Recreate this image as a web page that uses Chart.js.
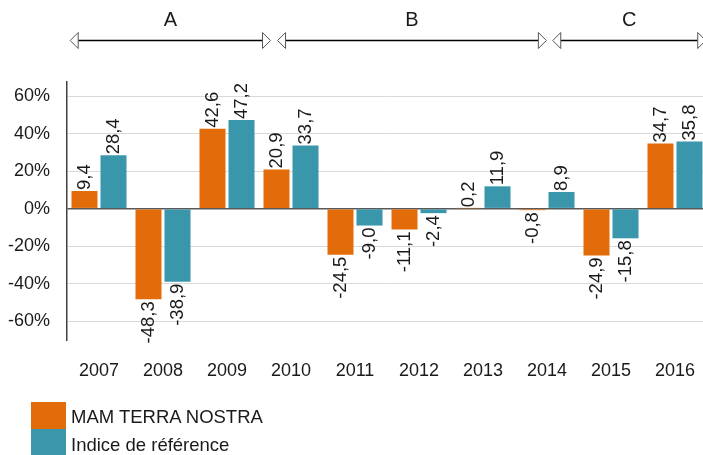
<!DOCTYPE html>
<html>
<head>
<meta charset="utf-8">
<script src="https://cdn.jsdelivr.net/npm/chart.js@4"></script>
<style>
  html, body { margin: 0; padding: 0; background: #fff; overflow: hidden; }
  #wrap { position: relative; width: 707px; height: 455px; }
  #legend { position: absolute; left: 31px; top: 402px; font: 18.5px "Liberation Sans", Arial, sans-serif; color: #1a1a1a; }
  #legend div { display: flex; align-items: center; height: 26.5px; }
  #legend span { display: inline-block; width: 35px; height: 26.5px; margin-right: 5px; }
  #legend b { font-weight: normal; position: relative; top: 2px; }
  #legend div + div b { top: 3px; }
</style>
</head>
<body>
<div id="wrap">
  <canvas id="myChart" width="707" height="455"></canvas>
  <div id="legend"></div>
</div>
<script>
const years = ["2007", "2008", "2009", "2010", "2011", "2012", "2013", "2014", "2015", "2016"];
const fund = [9.4, -48.3, 42.6, 20.9, -24.5, -11.1, 0.2, -0.8, -24.9, 34.7];
const index = [28.4, -38.9, 47.2, 33.7, -9.0, -2.4, 11.9, 8.9, -15.8, 35.8];
const yTicks = [-60, -40, -20, 0, 20, 40, 60];

// periods along the top, in year units (2007 = first category)
const periodNames = ["A", "B", "C"];
const periodStart = [2006.55, 2009.79, 2014.09];
const periodEnd = [2009.68, 2013.99, 2016.48];

const font = '"Liberation Sans", Arial, sans-serif';
Chart.defaults.font.family = font;
Chart.defaults.color = "#1a1a1a";

const fmt = v => v.toFixed(1).replace(".", ",");

const valueLabels = {
  id: "valueLabels",
  afterDatasetsDraw(chart) {
    const ctx = chart.ctx;
    ctx.save();
    ctx.font = "18.5px " + font;
    ctx.fillStyle = "#1a1a1a";
    ctx.textBaseline = "middle";
    chart.data.datasets.forEach((ds, i) => {
      chart.getDatasetMeta(i).data.forEach((bar, j) => {
        const v = ds.data[j];
        ctx.save();
        ctx.translate(bar.x, bar.y + (v >= 0 ? -1 : 2));
        ctx.rotate(-Math.PI / 2);
        ctx.textAlign = v >= 0 ? "left" : "right";
        ctx.fillText(fmt(v), 0, 0);
        ctx.restore();
      });
    });
    ctx.restore();
  }
};

function arrowHead(ctx, tipX, y, dir) {
  ctx.beginPath();
  ctx.moveTo(tipX, y);
  ctx.lineTo(tipX + dir * 8, y - 8);
  ctx.lineTo(tipX + dir * 8, y + 8);
  ctx.closePath();
  ctx.fillStyle = "#fff";
  ctx.fill();
  ctx.strokeStyle = "#555";
  ctx.lineWidth = 1;
  ctx.stroke();
}

const periods = {
  id: "periods",
  afterDraw(chart) {
    const ctx = chart.ctx, x = chart.scales.x;
    const y = 40.5;
    ctx.save();
    periodNames.forEach((name, i) => {
      const x0 = x.getPixelForValue(periodStart[i] - 2007);
      const x1 = x.getPixelForValue(periodEnd[i] - 2007);
      ctx.beginPath();
      ctx.moveTo(x0 + 8, y);
      ctx.lineTo(x1 - 8, y);
      ctx.strokeStyle = "#000";
      ctx.lineWidth = 1.5;
      ctx.stroke();
      arrowHead(ctx, x0, y, 1);
      arrowHead(ctx, x1, y, -1);
      ctx.fillStyle = "#1a1a1a";
      ctx.font = "20px " + font;
      ctx.textAlign = "center";
      ctx.textBaseline = "middle";
      ctx.fillText(name, (x0 + x1) / 2, 20);
    });
    ctx.restore();
  }
};

const data = {
  labels: years,
  datasets: [
    { label: "MAM TERRA NOSTRA", data: fund, backgroundColor: "#E36C0A" },
    { label: "Indice de référence", data: index, backgroundColor: "#3A97AB" },
  ],
};

const config = {
  type: "bar",
  data: data,
  options: {
    responsive: false,
    animation: false,
    devicePixelRatio: 1,
    categoryPercentage: 0.906,
    barPercentage: 0.897,
    layout: { padding: { top: 82, right: 0, left: 0, bottom: 0 } },
    scales: {
      x: {
        grid: { display: false },
        border: { display: false },
        ticks: { font: { size: 18 }, padding: 12, color: "#1a1a1a" },
        afterFit: s => { s.height = 115; s.paddingLeft = 0; s.paddingRight = 0; },
      },
      y: {
        min: -70,
        max: 67.5,
        afterBuildTicks: s => { s.ticks = yTicks.map(v => ({ value: v })); },
        afterFit: s => { s.width = 67; },
        ticks: {
          font: { size: 18 },
          padding: 17,
          color: "#1a1a1a",
          callback: v => v + "%",
        },
        grid: {
          drawTicks: false,
          color: c => c.tick.value === 0 ? "#595959" : "#D9D9D9",
          lineWidth: c => c.tick.value === 0 ? 1.5 : 1,
        },
        border: { display: true, color: "#404040", width: 1.5 },
      },
    },
    plugins: {
      legend: { display: false },
      tooltip: { enabled: false },
    },
  },
  plugins: [valueLabels, periods],
};

const myChart = new Chart(document.getElementById("myChart"), config);

document.getElementById("legend").innerHTML = data.datasets
  .map(ds => `<div><span style="background:${ds.backgroundColor}"></span><b>${ds.label}</b></div>`)
  .join("");
</script>
</body>
</html>
